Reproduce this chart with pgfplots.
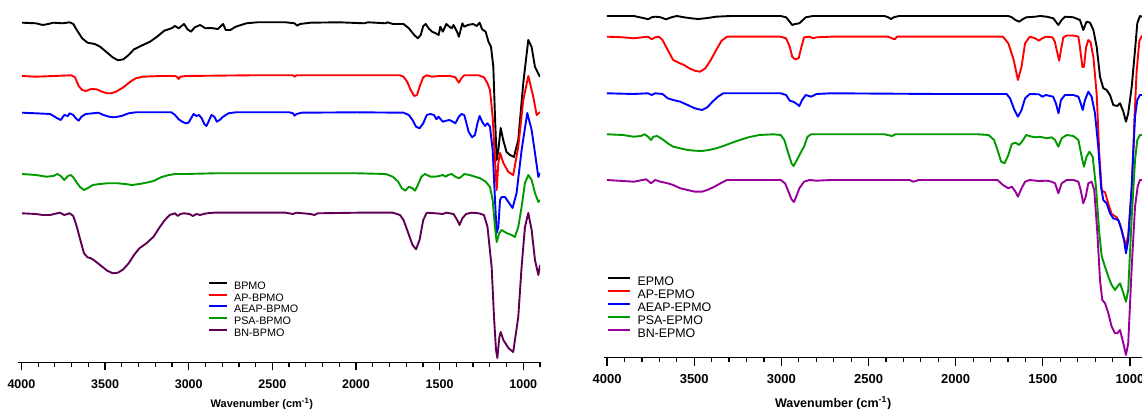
\documentclass[border=0pt]{standalone}
\usepackage{pgfplots}
\pgfplotsset{compat=1.18}
\usepackage{fontspec}
\setmainfont{Liberation Sans}
\definecolor{cBlack}{RGB}{0,0,0}
\definecolor{cRed}{RGB}{255,0,0}
\definecolor{cBlue}{RGB}{0,0,255}
\definecolor{cGreen}{RGB}{0,153,0}
\definecolor{cPurpleL}{RGB}{96,0,84}
\definecolor{cPurpleR}{RGB}{153,0,153}
\pgfplotsset{
  ftir/.style={
    scale only axis,
    x dir=reverse,
    xmin=900, xmax=4020, ymax=0,
    axis x line*=bottom, axis y line=none,
    axis line style={line width=1.3pt, black},
    xtick={1000,1500,2000,2500,3000,3500,4000},
    minor xtick={900,1000,...,4000},
    tick align=outside, xtick pos=bottom,
    major tick length=8pt, minor tick length=4.5pt,
    every tick/.style={black, line width=1.2pt},
    /pgf/number format/set thousands separator={},
    /pgf/number format/assume math mode=true,
    legend cell align=left,
    every axis plot/.append style={line width=1.9pt, line join=round},
  }
}
\begin{document}
\begin{tikzpicture}[x=1pt,y=1pt]
\useasboundingbox (0,0) rectangle (1142,409);
\clip (0,0) rectangle (1142,409);
% ---------------- left panel ----------------
\begin{axis}[ftir,
  at={(18.1pt,46.7pt)}, anchor=south west,
  width=521.9pt, height=362.3pt, ymin=-362.3,
  xticklabel style={font=\fontsize{12.5}{14}\selectfont\bfseries, yshift=-6pt},
  xlabel={\bfseries Wavenumber (cm\textsuperscript{-1})},
  xlabel style={font=\fontsize{11}{13}\selectfont, at={(rel axis cs:0.467,0)}, anchor=center, yshift=-42pt},
  legend style={at={(rel axis cs:0.3644,0.2251)}, anchor=north west, draw=none, fill=none, inner sep=0pt,
    font=\fontsize{10.8}{12}\selectfont, nodes={inner sep=0.6pt, text height=8pt, text depth=2.5pt},
    /tikz/every odd column/.append style={column sep=5pt}},
  legend image code/.code={\draw[#1,line width=2pt] (0pt,3.8pt) -- (18pt,3.8pt);},
]
\addplot[cBlack] coordinates {(3996,-22.7)(3914,-23.3)(3872,-25)(3840,-24)(3808,-22.7)(3754,-23.3)(3712,-22.3)(3690,-24)(3669,-30)(3637,-38.3)(3605,-42.7)(3562,-44)(3530,-46.7)(3487,-52.7)(3455,-57.3)(3423,-60.3)(3391,-59.3)(3359,-55)(3327,-49.3)(3274,-45)(3231,-41.7)(3189,-36.7)(3146,-30.7)(3103,-28.3)(3082,-26)(3060,-28.3)(3028,-24)(3007,-29.3)(2986,-31.7)(2964,-27.3)(2932,-25)(2900,-28.3)(2868,-28)(2826,-29)(2794,-24)(2779,-30)(2751,-30)(2719,-26.7)(2655,-23.3)(2591,-22.3)(2420,-22.3)(2367,-23.3)(2352,-25.7)(2335,-24)(2271,-22.7)(2100,-22.3)(1950,-23.3)(1929,-22.3)(1822,-23.3)(1812,-22.3)(1780,-24)(1716,-24)(1684,-28.3)(1652,-35)(1630,-38.3)(1613,-35)(1598,-26)(1583,-24)(1566,-28.3)(1545,-31.7)(1524,-33.3)(1506,-35)(1496,-26.7)(1481,-31.7)(1460,-24)(1442,-26.7)(1428,-28.3)(1417,-25)(1396,-31.7)(1385,-36.7)(1364,-23.3)(1353,-26.7)(1332,-25)(1300,-24)(1278,-26)(1261,-22.7)(1246,-29.3)(1225,-31.7)(1208,-41.7)(1193,-46.7)(1179,-67)(1169,-117)(1159,-160)(1149,-150)(1135,-128)(1120,-140)(1100,-152)(1080,-155)(1056,-157)(1030,-140)(1000,-83)(970,-40)(950,-47)(930,-67)(900,-77)};
\addlegendentry{BPMO}
\addplot[cRed] coordinates {(3996,-76)(3914,-76.7)(3808,-76)(3701,-75.3)(3680,-77.3)(3658,-86)(3637,-90)(3615,-91)(3584,-89)(3551,-89.3)(3519,-91.7)(3487,-93.3)(3466,-93.3)(3434,-91.7)(3391,-87.3)(3349,-81.7)(3317,-78.3)(3274,-76.7)(3167,-76)(3082,-76)(3071,-76.7)(3060,-79)(3050,-76.7)(3018,-76)(2634,-75.3)(2377,-75.3)(2367,-76.7)(2356,-75.3)(1993,-75.3)(1737,-75.3)(1716,-76.7)(1694,-81.7)(1673,-90)(1652,-96)(1635,-95)(1620,-86.7)(1598,-77.3)(1577,-75.3)(1545,-76.7)(1502,-76)(1438,-76)(1406,-77.3)(1385,-82.7)(1370,-78.3)(1353,-75.3)(1267,-75.3)(1235,-77.3)(1214,-83.3)(1199,-90)(1183,-117)(1169,-160)(1159,-190)(1149,-163)(1139,-153)(1119,-163)(1089,-172)(1060,-175)(1030,-147)(1000,-100)(970,-76)(940,-97)(920,-115)(900,-112)};
\addlegendentry{AP-BPMO}
\addplot[cBlue] coordinates {(3996,-112.7)(3914,-113.3)(3829,-114)(3808,-116)(3786,-118.3)(3765,-120)(3754,-117.3)(3744,-115)(3722,-116)(3712,-113.3)(3690,-115)(3675,-118.3)(3658,-120.7)(3641,-116.7)(3615,-114)(3573,-113.3)(3541,-112.7)(3509,-115)(3477,-116.7)(3445,-117.3)(3402,-116)(3359,-113.3)(3317,-112.3)(3103,-112.3)(3082,-115)(3060,-119.3)(3039,-121.7)(3018,-123.3)(3001,-122.7)(2986,-118.3)(2971,-114)(2954,-116)(2939,-115)(2922,-118.3)(2907,-124)(2894,-126)(2879,-120.7)(2864,-115)(2847,-116.7)(2832,-121.7)(2815,-120)(2794,-116.7)(2762,-113.3)(2719,-112.3)(2399,-112.3)(2377,-113.3)(2367,-115.7)(2356,-114)(2324,-112.7)(1993,-112.3)(1716,-112.7)(1684,-115)(1662,-120)(1641,-126.7)(1620,-128.3)(1598,-123.3)(1577,-115)(1556,-114)(1534,-115)(1519,-119.3)(1507,-116.7)(1481,-121.7)(1460,-120.7)(1442,-120)(1421,-121.7)(1406,-123.3)(1385,-116.7)(1370,-114)(1353,-115)(1342,-121.7)(1327,-131.7)(1306,-137.3)(1289,-135)(1274,-123.3)(1261,-116)(1246,-121.7)(1229,-126)(1214,-123.3)(1199,-126.7)(1183,-150)(1169,-200)(1159,-233)(1149,-227)(1139,-200)(1129,-197)(1109,-197)(1089,-202)(1064,-208)(1040,-193)(1010,-150)(976,-113)(950,-130)(930,-153)(910,-177)(900,-173)};
\addlegendentry{AEAP-BPMO}
\addplot[cGreen] coordinates {(3996,-174)(3914,-175)(3850,-176.7)(3808,-176)(3786,-174)(3765,-176)(3744,-180)(3722,-176)(3705,-175)(3690,-177.3)(3669,-182.7)(3648,-187.3)(3626,-190)(3605,-188.3)(3573,-185)(3530,-184)(3487,-183.3)(3423,-183.3)(3381,-184)(3338,-185)(3295,-184)(3253,-182.7)(3210,-181)(3167,-177.3)(3125,-175.3)(3082,-174)(3018,-174)(2847,-173.3)(1993,-173.3)(1822,-174)(1780,-176.7)(1748,-181.7)(1726,-188.3)(1705,-190.7)(1684,-186.7)(1662,-188.3)(1647,-190.7)(1630,-185)(1609,-176.7)(1588,-174)(1556,-176.7)(1524,-176.7)(1502,-176)(1481,-175)(1464,-176.7)(1449,-175)(1428,-174)(1406,-176.7)(1385,-178.3)(1370,-176.7)(1353,-174)(1321,-175)(1289,-176.7)(1257,-178.3)(1225,-181.7)(1199,-187)(1183,-200)(1169,-227)(1159,-242)(1143,-233)(1129,-230)(1100,-233)(1070,-235)(1050,-237)(1030,-227)(1010,-207)(990,-183)(970,-175)(950,-180)(930,-193)(910,-202)(900,-200)};
\addlegendentry{PSA-BPMO}
\addplot[cPurpleL] coordinates {(3996,-213.3)(3914,-214)(3872,-215)(3829,-215)(3786,-213.3)(3769,-212.7)(3744,-215)(3712,-213.3)(3690,-216)(3669,-226.7)(3648,-240)(3626,-253.3)(3605,-257.3)(3584,-258.3)(3562,-260.7)(3530,-265)(3487,-270.7)(3455,-273.3)(3423,-272.7)(3391,-269.3)(3359,-263.3)(3327,-255)(3295,-248.3)(3253,-243.3)(3210,-236.7)(3178,-228.3)(3146,-220.7)(3114,-215)(3082,-213.3)(3065,-216)(3050,-214)(3028,-213.3)(2996,-214)(2975,-216)(2954,-214)(2932,-215)(2911,-214)(2890,-213.3)(2847,-212.7)(2420,-212.7)(2377,-214)(2356,-212.7)(2271,-214)(2249,-215)(2228,-213.3)(1993,-212.7)(1780,-212.7)(1737,-215)(1716,-220)(1694,-230)(1662,-245)(1641,-249.3)(1620,-240)(1598,-220)(1577,-212.7)(1524,-213.3)(1481,-214)(1460,-212.7)(1417,-214)(1395,-220)(1381,-225)(1364,-218.3)(1342,-214)(1310,-212.7)(1267,-213.3)(1235,-215)(1214,-226.7)(1189,-267)(1175,-317)(1163,-350)(1155,-358)(1143,-337)(1135,-332)(1119,-340)(1089,-348)(1060,-352)(1030,-317)(1010,-267)(990,-227)(970,-213)(950,-230)(930,-260)(910,-275)(900,-265)};
\addlegendentry{BN-BPMO}
\end{axis}
% ---------------- right panel ----------------
\begin{axis}[ftir,
  at={(603.6pt,51.3pt)}, anchor=south west,
  width=543.8pt, height=357.7pt, ymin=-357.7,
  xticklabel style={font=\fontsize{13}{15}\selectfont\bfseries, yshift=-5pt},
  xlabel={\bfseries Wavenumber (cm\textsuperscript{-1})},
  xlabel style={font=\fontsize{12.5}{14}\selectfont, at={(rel axis cs:0.422,0)}, anchor=center, yshift=-45.5pt},
  legend style={at={(rel axis cs:0.0057,0.2287)}, anchor=north west, draw=none, fill=none, inner sep=0pt,
    font=\fontsize{12.4}{14}\selectfont, nodes={inner sep=0.6pt, text height=9pt, text depth=2.8pt},
    /tikz/every odd column/.append style={column sep=6pt}},
  legend image code/.code={\draw[#1,line width=2pt] (0pt,4.4pt) -- (22pt,4.4pt);},
]
\addplot[cBlack] coordinates {(4001,-16)(3847,-16)(3785,-18.3)(3765,-19.3)(3744,-17.3)(3724,-16.7)(3693,-17.3)(3662,-19.3)(3631,-17.3)(3600,-16)(3559,-17.3)(3518,-18.3)(3477,-19)(3436,-18.3)(3374,-16.7)(3292,-16)(3004,-16)(2973,-17.3)(2952,-21.7)(2938,-25)(2922,-24)(2897,-23.3)(2881,-20.7)(2860,-17.3)(2819,-16)(2716,-16)(2408,-16)(2387,-17.3)(2371,-19)(2356,-17.3)(2325,-16)(2099,-16)(1698,-16)(1678,-17.3)(1657,-20)(1636,-21.7)(1616,-19.3)(1595,-17.3)(1544,-16.7)(1516,-16)(1478,-16.7)(1440,-18.3)(1411,-25)(1392,-20)(1373,-16.7)(1325,-17.3)(1287,-20)(1268,-30)(1249,-21.7)(1229,-22.7)(1210,-30)(1191,-46.7)(1172,-76.7)(1153,-88.3)(1134,-90)(1115,-95)(1096,-105)(1073,-106)(1057,-103.3)(1038,-111.7)(1023,-121.7)(1010,-113.3)(990,-86.7)(971,-50)(958,-23.3)(943,-16)(931,-16.7)(920,-17)};
\addlegendentry{EPMO}
\addplot[cRed] coordinates {(4001,-36.7)(3909,-37.3)(3847,-38.3)(3796,-37.3)(3765,-36.7)(3744,-39.3)(3724,-37.3)(3703,-36.7)(3682,-40)(3652,-50)(3621,-60)(3590,-62.7)(3559,-65)(3528,-68.3)(3497,-70.7)(3467,-71.7)(3436,-68.3)(3405,-60)(3374,-50)(3343,-40.7)(3312,-36.7)(3004,-36.7)(2973,-38.3)(2952,-46.7)(2938,-56.7)(2922,-59.3)(2901,-58.3)(2887,-48.3)(2870,-37.3)(2839,-36.7)(2819,-38.3)(2798,-37.3)(2716,-36.7)(2387,-36.7)(2366,-38.3)(2350,-39.3)(2336,-36.7)(2099,-36.7)(1729,-36.7)(1698,-43.3)(1667,-60)(1643,-80)(1622,-66.7)(1602,-43.3)(1575,-36.7)(1544,-38.3)(1523,-40.7)(1503,-38.3)(1482,-36.7)(1445,-37.3)(1431,-41.7)(1418,-52)(1406,-60.7)(1394,-48)(1382,-37.3)(1363,-35.5)(1325,-35.5)(1296,-36.7)(1287,-47.3)(1273,-67)(1264,-67)(1252,-47.3)(1239,-40)(1226,-42.3)(1210,-57.3)(1191,-94)(1176,-154)(1162,-190.7)(1143,-192.3)(1124,-204)(1105,-214)(1076,-217.3)(1057,-224)(1038,-237.3)(1023,-245.7)(1010,-234.7)(990,-188.3)(975,-121.7)(962,-71.7)(946,-40.7)(931,-35.7)(920,-36)};
\addlegendentry{AP-EPMO}
\addplot[cBlue] coordinates {(4001,-93.3)(3847,-94)(3765,-93.3)(3744,-95)(3724,-93.3)(3682,-94)(3652,-98.3)(3621,-100)(3580,-101.7)(3538,-105)(3497,-108.3)(3456,-110)(3425,-107.3)(3395,-101.7)(3364,-96.7)(3333,-93.3)(3004,-93.3)(2973,-95)(2952,-100.7)(2932,-101.7)(2911,-104)(2897,-106)(2881,-100)(2860,-95)(2829,-96.7)(2798,-94)(2716,-93.3)(2099,-94)(1708,-94)(1688,-98.3)(1663,-110)(1643,-116.7)(1622,-110)(1602,-98.3)(1575,-94)(1523,-94.3)(1503,-96.7)(1482,-95)(1441,-96.7)(1425,-103.3)(1410,-113.3)(1396,-100)(1373,-95)(1325,-95)(1296,-96.7)(1283,-103.3)(1271,-110)(1258,-100)(1239,-91.7)(1220,-96.7)(1201,-113.3)(1182,-146.7)(1166,-186.7)(1153,-200)(1134,-203.3)(1115,-213.3)(1096,-218.3)(1067,-220)(1048,-230)(1034,-240)(1023,-253.3)(1010,-240)(990,-186.7)(971,-116.7)(958,-100)(943,-95)(931,-95)(920,-95)};
\addlegendentry{AEAP-EPMO}
\addplot[cGreen] coordinates {(4001,-134.3)(3909,-135)(3847,-136.7)(3806,-136)(3785,-134.3)(3765,-136.7)(3748,-140)(3734,-136.7)(3713,-136)(3682,-139.3)(3652,-143.3)(3621,-146.7)(3580,-148.3)(3538,-150)(3497,-150.7)(3456,-151)(3415,-150)(3374,-148.3)(3333,-146)(3292,-143.3)(3251,-140.7)(3189,-137.3)(3127,-135)(3045,-134.3)(3004,-135)(2983,-140)(2963,-151.7)(2942,-163.3)(2930,-166)(2911,-160)(2891,-153.3)(2870,-146.7)(2850,-136.7)(2829,-134.3)(2716,-134.3)(2408,-134.3)(2366,-136)(2346,-134.3)(2099,-134.3)(1873,-134.3)(1811,-135)(1780,-140)(1760,-150)(1739,-161.7)(1719,-163.3)(1698,-155)(1678,-144)(1657,-142.7)(1636,-145)(1616,-140.7)(1595,-135)(1564,-136.7)(1534,-137.3)(1516,-136.7)(1478,-138.3)(1449,-137.3)(1430,-140)(1411,-146.7)(1392,-138.3)(1363,-135)(1325,-136)(1296,-140)(1277,-156.7)(1264,-166.7)(1249,-156.7)(1233,-151.7)(1214,-156.7)(1195,-186.7)(1176,-233.3)(1162,-256.7)(1143,-266.7)(1124,-276.7)(1105,-285)(1086,-290)(1073,-286.7)(1057,-283.3)(1038,-293.3)(1023,-301.7)(1010,-290)(990,-216.7)(971,-160)(958,-140)(943,-135)(931,-135)(920,-135)};
\addlegendentry{PSA-EPMO}
\addplot[cPurpleR] coordinates {(4001,-180)(3909,-181)(3847,-181.7)(3796,-180)(3775,-179.3)(3748,-183.3)(3724,-180)(3693,-181.7)(3652,-183.3)(3621,-185)(3580,-188.3)(3538,-190)(3497,-191.7)(3456,-191.7)(3425,-190)(3384,-186.7)(3343,-182.7)(3312,-180)(3004,-180)(2979,-183.3)(2959,-191.7)(2942,-199.3)(2928,-202)(2911,-195)(2897,-188.3)(2870,-181.7)(2839,-180)(2798,-180.7)(2716,-180)(2264,-180)(2243,-181.7)(2212,-180)(2099,-180)(1760,-180)(1729,-185)(1698,-188.3)(1678,-186.7)(1657,-191.7)(1643,-196.7)(1622,-188.3)(1602,-181.7)(1575,-180)(1523,-181)(1478,-180.7)(1449,-181.7)(1430,-183.3)(1411,-193.3)(1392,-183.3)(1363,-180)(1325,-180)(1296,-181.7)(1283,-190)(1268,-203.3)(1254,-196.7)(1239,-183.3)(1220,-181.7)(1205,-190)(1187,-233.3)(1172,-280)(1159,-300)(1143,-303.3)(1124,-313.3)(1105,-326.7)(1086,-333.3)(1073,-333.3)(1057,-330)(1038,-343.3)(1023,-355)(1010,-343.3)(990,-266.7)(971,-206.7)(956,-186.7)(943,-180)(931,-180)(920,-180)};
\addlegendentry{BN-EPMO}
\end{axis}
\end{tikzpicture}
\end{document}
